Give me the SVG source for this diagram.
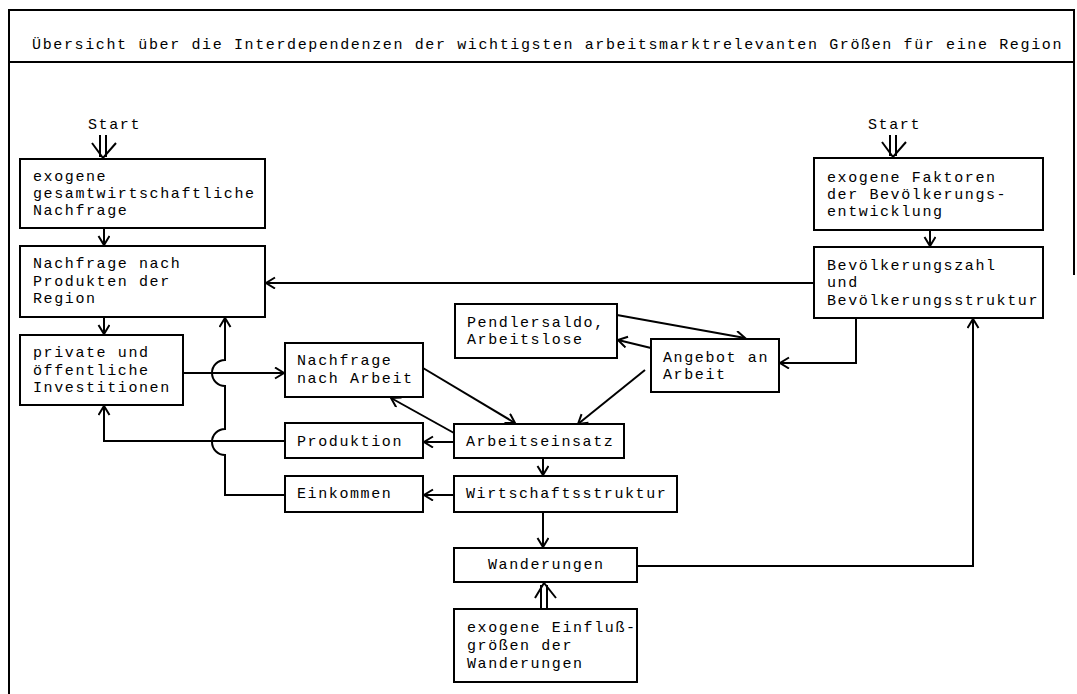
<svg xmlns="http://www.w3.org/2000/svg" width="1077" height="694" viewBox="0 0 1077 694">
<style>
.box{fill:#fff;stroke:#000;stroke-width:2}
.t{font-family:"Liberation Mono","DejaVu Sans Mono",monospace;font-size:15px;letter-spacing:1.6px;fill:#000}
.c{fill:none;stroke:#000;stroke-width:2}
.frame{fill:none;stroke:#000;stroke-width:2}
</style>
<defs>
<marker id="arr" markerUnits="userSpaceOnUse" markerWidth="14" markerHeight="14" refX="10" refY="6" orient="auto">
<path d="M1,0.5 L10,6 L1,11.5" fill="none" stroke="#000" stroke-width="2"/>
</marker>
</defs>
<rect width="1077" height="694" fill="#fff"/>
<g id="frame">
<path class="frame" d="M9,694 V10 H1074 V275"/>
<path class="frame" d="M9,62 H1074"/>
<text class="t" x="32" y="49" textLength="1031" lengthAdjust="spacing">Übersicht über die Interdependenzen der wichtigsten arbeitsmarktrelevanten Größen für eine Region</text>
</g>
<g id="connectors">
<path class="c" d="M104,228 V245" marker-end="url(#arr)"/>
<path class="c" d="M104,317 V334" marker-end="url(#arr)"/>
<path class="c" d="M930,230 V246" marker-end="url(#arr)"/>
<path class="c" d="M814,283 H266" marker-end="url(#arr)"/>
<path class="c" d="M856,318 V363 H780" marker-end="url(#arr)"/>
<path class="c" d="M617,315 L745,338" marker-end="url(#arr)"/>
<path class="c" d="M651,348 L618,340" marker-end="url(#arr)"/>
<path class="c" d="M645,370 L578,424" marker-end="url(#arr)"/>
<path class="c" d="M423,368 L515,423" marker-end="url(#arr)"/>
<path class="c" d="M454,433 L391,398" marker-end="url(#arr)"/>
<path class="c" d="M454,442 H424" marker-end="url(#arr)"/>
<path class="c" d="M543,458 V475" marker-end="url(#arr)"/>
<path class="c" d="M454,495 H424" marker-end="url(#arr)"/>
<path class="c" d="M543,512 V547" marker-end="url(#arr)"/>
<path class="c" d="M637,566 H973 V319" marker-end="url(#arr)"/>
<path class="c" d="M183,373 H284" marker-end="url(#arr)"/>
<path class="c" d="M285,441 H104 V406" marker-end="url(#arr)"/>
<path class="c" d="M285,495 H225 V455 A13,13 0 0 1 225,429 V386 A13,13 0 0 1 225,360 V318" marker-end="url(#arr)"/>
<g id="start-left">
<path class="c" d="M100,135 V157 M106,135 V157 M92,143 L103,158 L116,143"/>
</g>
<g id="start-right">
<path class="c" d="M890,135 V156 M896,135 V156 M882,142 L893,157 L906,142"/>
</g>
<g id="exo-wanderungen">
<path class="c" d="M541,609 V585 M547,609 V585 M535,598 L544,583 L556,598"/>
</g>
</g>
<text class="t" x="88" y="129">Start</text>
<text class="t" x="868" y="129">Start</text>
<g id="n-exo-nachfrage">
<rect class="box" x="20" y="159" width="245" height="69"/>
<text class="t" x="33" y="181">exogene</text>
<text class="t" x="33" y="198">gesamtwirtschaftliche</text>
<text class="t" x="33" y="215">Nachfrage</text>
</g>
<g id="n-nachfrage-produkte">
<rect class="box" x="20" y="246" width="245" height="71"/>
<text class="t" x="33" y="268">Nachfrage nach</text>
<text class="t" x="33" y="286">Produkten der</text>
<text class="t" x="33" y="303">Region</text>
</g>
<g id="n-investitionen">
<rect class="box" x="20" y="335" width="163" height="70"/>
<text class="t" x="33" y="357">private und</text>
<text class="t" x="33" y="375">öffentliche</text>
<text class="t" x="33" y="392">Investitionen</text>
</g>
<g id="n-nachfrage-arbeit">
<rect class="box" x="285" y="343" width="138" height="54"/>
<text class="t" x="297" y="365">Nachfrage</text>
<text class="t" x="297" y="383">nach Arbeit</text>
</g>
<g id="n-pendler">
<rect class="box" x="455" y="304" width="162" height="54"/>
<text class="t" x="467" y="327">Pendlersaldo,</text>
<text class="t" x="467" y="344">Arbeitslose</text>
</g>
<g id="n-angebot">
<rect class="box" x="651" y="339" width="128" height="53"/>
<text class="t" x="663" y="362">Angebot an</text>
<text class="t" x="663" y="379">Arbeit</text>
</g>
<g id="n-arbeitseinsatz">
<rect class="box" x="454" y="424" width="170" height="34"/>
<text class="t" x="466" y="446">Arbeitseinsatz</text>
</g>
<g id="n-produktion">
<rect class="box" x="285" y="423" width="138" height="35"/>
<text class="t" x="297" y="446">Produktion</text>
</g>
<g id="n-einkommen">
<rect class="box" x="285" y="476" width="138" height="36"/>
<text class="t" x="297" y="498">Einkommen</text>
</g>
<g id="n-wirtschaftsstruktur">
<rect class="box" x="454" y="476" width="223" height="36"/>
<text class="t" x="466" y="498">Wirtschaftsstruktur</text>
</g>
<g id="n-wanderungen">
<rect class="box" x="454" y="548" width="183" height="34"/>
<text class="t" x="488" y="569">Wanderungen</text>
</g>
<g id="n-exo-wanderungen">
<rect class="box" x="454" y="609" width="183" height="73"/>
<text class="t" x="467" y="632">exogene Einfluß-</text>
<text class="t" x="467" y="650">größen der</text>
<text class="t" x="467" y="668">Wanderungen</text>
</g>
<g id="n-exo-faktoren">
<rect class="box" x="814" y="158" width="229" height="72"/>
<text class="t" x="827" y="182">exogene Faktoren</text>
<text class="t" x="827" y="199">der Bevölkerungs-</text>
<text class="t" x="827" y="216">entwicklung</text>
</g>
<g id="n-bevoelkerung">
<rect class="box" x="814" y="247" width="229" height="71"/>
<text class="t" x="827" y="270">Bevölkerungszahl</text>
<text class="t" x="827" y="287">und</text>
<text class="t" x="827" y="305">Bevölkerungsstruktur</text>
</g>
</svg>
